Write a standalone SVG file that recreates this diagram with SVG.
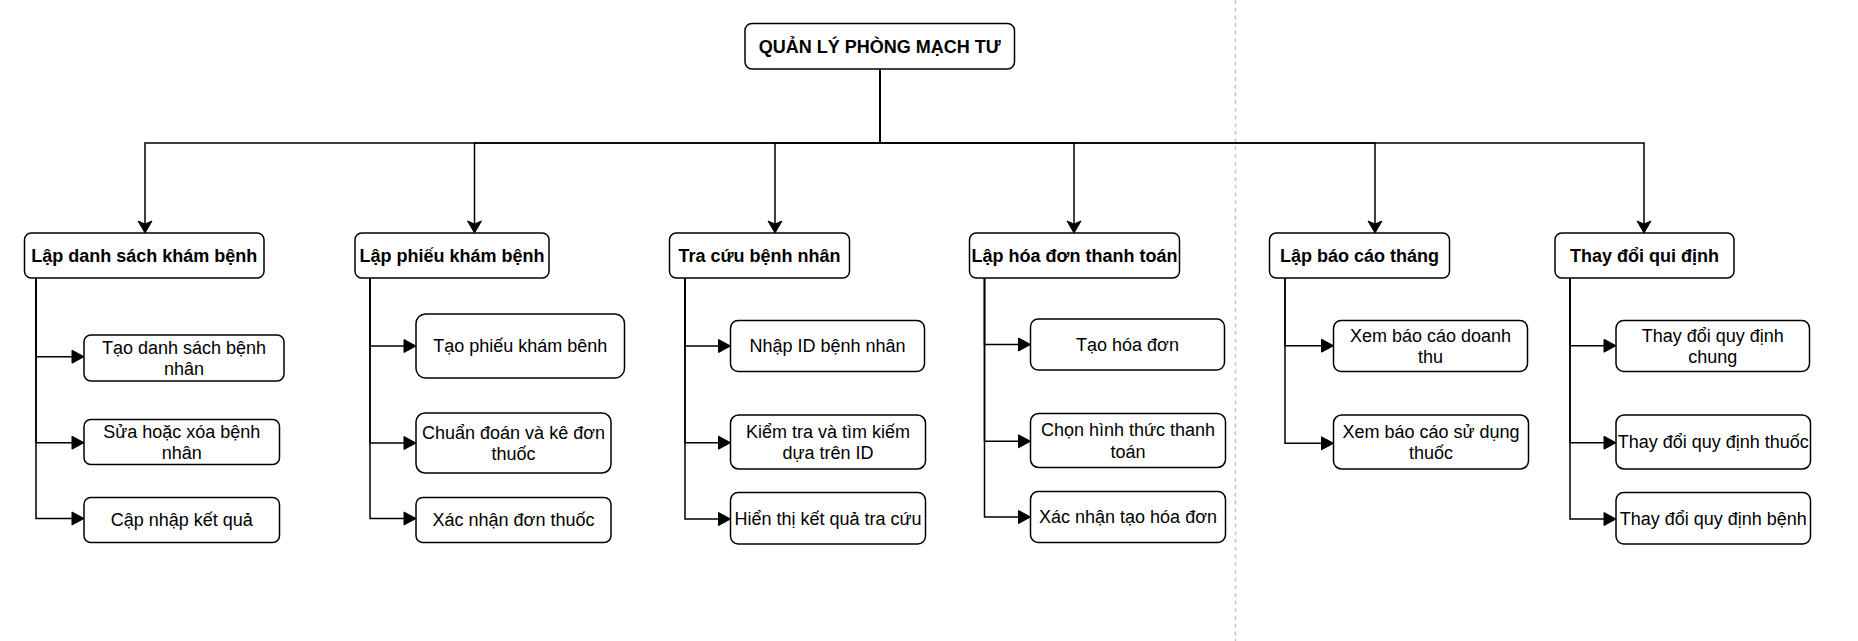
<svg xmlns="http://www.w3.org/2000/svg" width="1858" height="641" viewBox="0 0 1858 641">
<style>
.box{fill:#fff;stroke:#000;stroke-width:1.5}
.t{font-family:"Liberation Sans",Arial,Helvetica,sans-serif;font-size:18px;fill:#000;text-anchor:middle}
.b{font-weight:bold}
.e{fill:none;stroke:#000;stroke-width:1.5}
.ec{marker-end:url(#classic)}
.eb{marker-end:url(#block)}
</style>
<defs>
<marker id="classic" markerUnits="userSpaceOnUse" markerWidth="24" markerHeight="24" viewBox="-12 -12 24 24" refX="0" refY="0" orient="auto" overflow="visible">
<path d="M6,0 L-6,-7 L-3,0 L-6,7 Z" fill="#000" stroke="#000" stroke-width="1" stroke-linejoin="miter"/>
</marker>
<marker id="block" markerUnits="userSpaceOnUse" markerWidth="24" markerHeight="24" viewBox="-12 -12 24 24" refX="0" refY="0" orient="auto" overflow="visible">
<path d="M6,0 L-6,-6.5 L-6,6.5 Z" fill="#000" stroke="#000" stroke-width="1"/>
</marker>
</defs>
<rect width="1858" height="641" fill="#fff"/>
<line x1="1235.5" y1="0" x2="1235.5" y2="641" stroke="#c4c4c4" stroke-width="1.5" stroke-dasharray="4 3.7"/>
<g id="connectors">
<path class="e ec" d="M879.75,69 V143 H145 V227"/>
<path class="e ec" d="M879.75,69 V143 H474.5 V227"/>
<path class="e ec" d="M879.75,69 V143 H775 V227"/>
<path class="e ec" d="M879.75,69 V143 H1074 V227"/>
<path class="e ec" d="M879.75,69 V143 H1375 V227"/>
<path class="e ec" d="M879.75,69 V143 H1644 V227"/>
<path class="e eb" d="M36,278 V356.7 H78"/>
<path class="e eb" d="M36,278 V442.7 H78"/>
<path class="e eb" d="M36,278 V518.5 H78"/>
<path class="e eb" d="M370,278 V346 H410"/>
<path class="e eb" d="M370,278 V443 H410"/>
<path class="e eb" d="M370,278 V518.5 H410"/>
<path class="e eb" d="M685,278 V346 H724.5"/>
<path class="e eb" d="M685,278 V442.7 H724.5"/>
<path class="e eb" d="M685,278 V519 H724.5"/>
<path class="e eb" d="M984.5,278 V344.5 H1024.5"/>
<path class="e eb" d="M984.5,278 V441.3 H1024.5"/>
<path class="e eb" d="M984.5,278 V517 H1024.5"/>
<path class="e eb" d="M1285,278 V345.7 H1327.5"/>
<path class="e eb" d="M1285,278 V443.3 H1327.5"/>
<path class="e eb" d="M1570,278 V345.7 H1610"/>
<path class="e eb" d="M1570,278 V442.7 H1610"/>
<path class="e eb" d="M1570,278 V519 H1610"/>
</g>
<g id="root">
<rect class="box" x="745" y="23.5" width="269.5" height="45.5" rx="7"/>
<text class="t b" x="879.75" y="52.5">QUẢN LÝ PHÒNG MẠCH TƯ</text>
</g>
<g id="n1">
<rect class="box" x="24.5" y="233" width="239.5" height="45" rx="6.75"/>
<text class="t b" x="144.25" y="262">Lập danh sách khám bệnh</text>
</g>
<g id="n2">
<rect class="box" x="355" y="233" width="194" height="45" rx="6.75"/>
<text class="t b" x="452" y="262">Lập phiếu khám bệnh</text>
</g>
<g id="n3">
<rect class="box" x="669.5" y="233" width="180" height="45" rx="6.75"/>
<text class="t b" x="759.5" y="262">Tra cứu bệnh nhân</text>
</g>
<g id="n4">
<rect class="box" x="969.5" y="233" width="210" height="45" rx="6.75"/>
<text class="t b" x="1074.5" y="262">Lập hóa đơn thanh toán</text>
</g>
<g id="n5">
<rect class="box" x="1269.5" y="233" width="180" height="45" rx="6.75"/>
<text class="t b" x="1359.5" y="262">Lập báo cáo tháng</text>
</g>
<g id="n6">
<rect class="box" x="1555" y="233" width="179" height="45" rx="6.75"/>
<text class="t b" x="1644.5" y="262">Thay đổi qui định</text>
</g>
<g id="n1a">
<rect class="box" x="84" y="335" width="200" height="46" rx="6.9"/>
<text class="t" x="184" y="353.5">Tạo danh sách bệnh</text>
<text class="t" x="184" y="375">nhân</text>
</g>
<g id="n1b">
<rect class="box" x="84" y="419.5" width="195.5" height="45" rx="6.75"/>
<text class="t" x="181.75" y="437.5">Sửa hoặc xóa bệnh</text>
<text class="t" x="181.75" y="459">nhân</text>
</g>
<g id="n1c">
<rect class="box" x="84" y="497.5" width="195.5" height="45" rx="6.75"/>
<text class="t" x="181.75" y="526.3">Cập nhập kết quả</text>
</g>
<g id="n2a">
<rect class="box" x="416" y="314" width="208.5" height="64" rx="9.6"/>
<text class="t" x="520.25" y="352.3">Tạo phiếu khám bênh</text>
</g>
<g id="n2b">
<rect class="box" x="416" y="413" width="195" height="60" rx="9"/>
<text class="t" x="513.5" y="438.5">Chuẩn đoán và kê đơn</text>
<text class="t" x="513.5" y="460">thuốc</text>
</g>
<g id="n2c">
<rect class="box" x="416" y="497.5" width="195" height="45" rx="6.75"/>
<text class="t" x="513.5" y="526.3">Xác nhận đơn thuốc</text>
</g>
<g id="n3a">
<rect class="box" x="730.5" y="320.5" width="194" height="51" rx="7.65"/>
<text class="t" x="827.5" y="352.3">Nhập ID bệnh nhân</text>
</g>
<g id="n3b">
<rect class="box" x="730.5" y="415" width="195" height="54" rx="8.1"/>
<text class="t" x="828" y="437.5">Kiểm tra và tìm kiếm</text>
<text class="t" x="828" y="459">dựa trên ID</text>
</g>
<g id="n3c">
<rect class="box" x="730.5" y="492.5" width="195" height="51.5" rx="7.7"/>
<text class="t" x="828" y="524.5">Hiển thị kết quả tra cứu</text>
</g>
<g id="n4a">
<rect class="box" x="1030.5" y="319" width="194" height="51" rx="7.65"/>
<text class="t" x="1127.5" y="350.8">Tạo hóa đơn</text>
</g>
<g id="n4b">
<rect class="box" x="1030.5" y="413.5" width="195" height="54" rx="8.1"/>
<text class="t" x="1128" y="436">Chọn hình thức thanh</text>
<text class="t" x="1128" y="457.5">toán</text>
</g>
<g id="n4c">
<rect class="box" x="1030.5" y="491.5" width="195" height="51" rx="7.65"/>
<text class="t" x="1128" y="523.3">Xác nhận tạo hóa đơn</text>
</g>
<g id="n5a">
<rect class="box" x="1333.5" y="320.5" width="194" height="51" rx="7.65"/>
<text class="t" x="1430.5" y="341.5">Xem báo cáo doanh</text>
<text class="t" x="1430.5" y="363">thu</text>
</g>
<g id="n5b">
<rect class="box" x="1333.5" y="415" width="195" height="54" rx="8.1"/>
<text class="t" x="1431" y="437.5">Xem báo cáo sử dụng</text>
<text class="t" x="1431" y="459">thuốc</text>
</g>
<g id="n6a">
<rect class="box" x="1616" y="320.5" width="193.5" height="51" rx="7.65"/>
<text class="t" x="1712.75" y="341.5">Thay đổi quy định</text>
<text class="t" x="1712.75" y="363">chung</text>
</g>
<g id="n6b">
<rect class="box" x="1616" y="415" width="194.5" height="54" rx="8.1"/>
<text class="t" x="1713.25" y="448.3">Thay đổi quy định thuốc</text>
</g>
<g id="n6c">
<rect class="box" x="1616" y="492.5" width="194.5" height="51.5" rx="7.7"/>
<text class="t" x="1713.25" y="524.5">Thay đổi quy định bệnh</text>
</g>
</svg>
